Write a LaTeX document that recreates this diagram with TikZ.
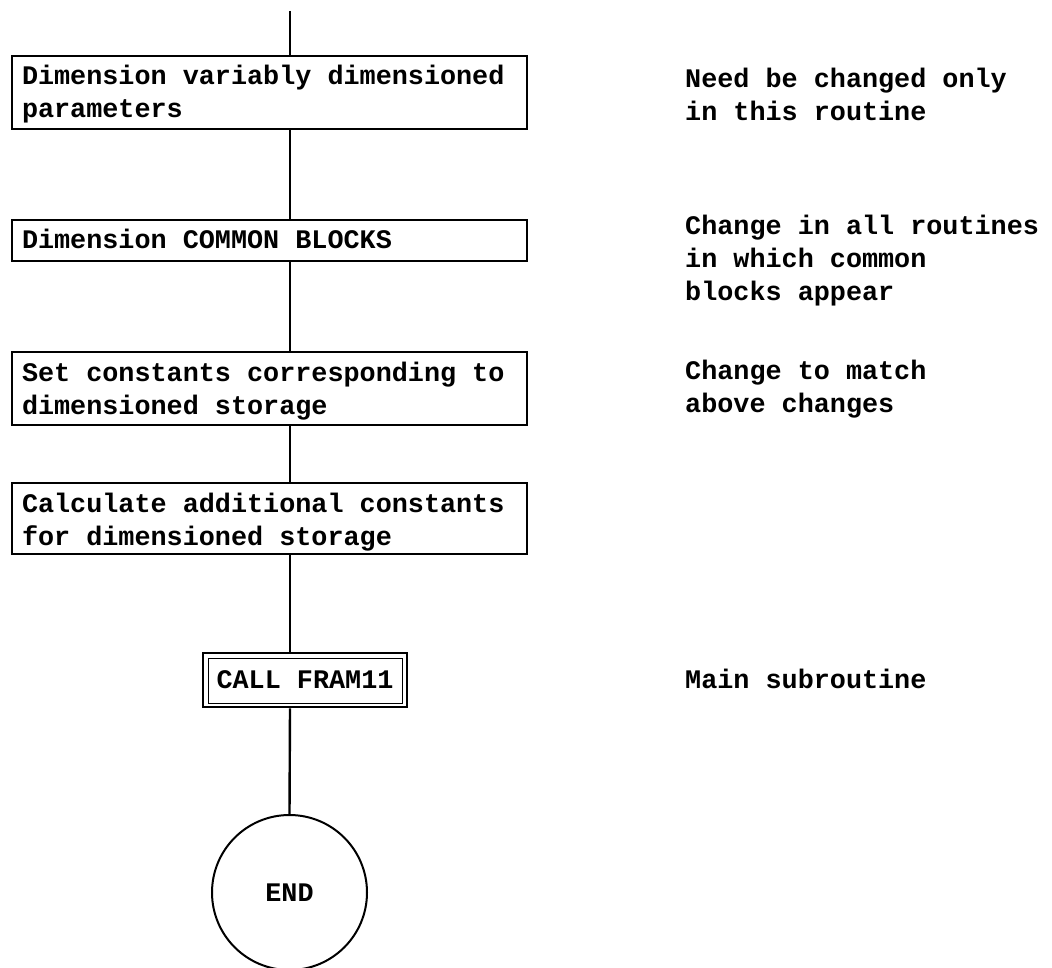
\documentclass[tikz,border=0pt]{standalone}
\usepackage{fontspec}
\newfontfamily\tw{Liberation Mono}
\begin{document}
\begin{tikzpicture}[x=1pt,y=-1pt,
  every node/.style={font=\tw\bfseries\fontsize{26.8pt}{33pt}\selectfont, inner sep=0pt},
  stepbox/.style={draw, line width=2.4pt, minimum width=515pt},
  conn/.style={line width=2.4pt},
  note/.style={anchor=base west}]
\useasboundingbox (0,0) rectangle (1052,968);
\fill[white] (0,0) rectangle (1052,968);

\coordinate (top) at (290,11);

\node[stepbox] (b1) at (269.5,92.5)
  {\parbox[c][73pt][t]{495pt}{\rule{0pt}{29pt}Dimension variably dimensioned\\parameters}};
\node[stepbox] (b2) at (269.5,240.5)
  {\parbox[c][41pt][t]{495pt}{\rule{0pt}{29pt}Dimension COMMON BLOCKS}};
\node[stepbox] (b3) at (269.5,388.5)
  {\parbox[c][73pt][t]{495pt}{\rule{0pt}{29pt}Set constants corresponding to\\dimensioned storage}};
\node[stepbox] (b4) at (269.5,518.5)
  {\parbox[c][71pt][t]{495pt}{\rule{0pt}{29pt}Calculate additional constants\\for dimensioned storage}};

\node[draw, line width=2.6pt, minimum width=204pt, minimum height=54pt] (call) at (305,680)
  {CALL FRAM11};
\draw[line width=1.4pt] ([shift={(7,7)}]call.north west) rectangle ([shift={(-6,-5)}]call.south east);

\node[draw, circle, line width=2pt, minimum size=155pt] (endc) at (289.5,892.5) {END};

\draw[conn] (top) -- (top |- b1.north);
\draw[conn] (top |- b1.south) -- (top |- b2.north);
\draw[conn] (top |- b2.south) -- (top |- b3.north);
\draw[conn] (top |- b3.south) -- (top |- b4.north);
\draw[conn] (top |- b4.south) -- (top |- call.north);
\draw[conn] (top |- call.south) -- (endc.north);

\node[note] (n1) at (685,88) {\parbox[t]{360pt}{Need be changed only\\in this routine}};
\node[note] (n2) at (685,235) {\parbox[t]{360pt}{Change in all routines\\in which common\\blocks appear}};
\node[note] (n3) at (685,379) {\parbox[t]{360pt}{Change to match\\above changes}};
\node[note] (n4) at (685,688) {Main subroutine};
\end{tikzpicture}
\end{document}
